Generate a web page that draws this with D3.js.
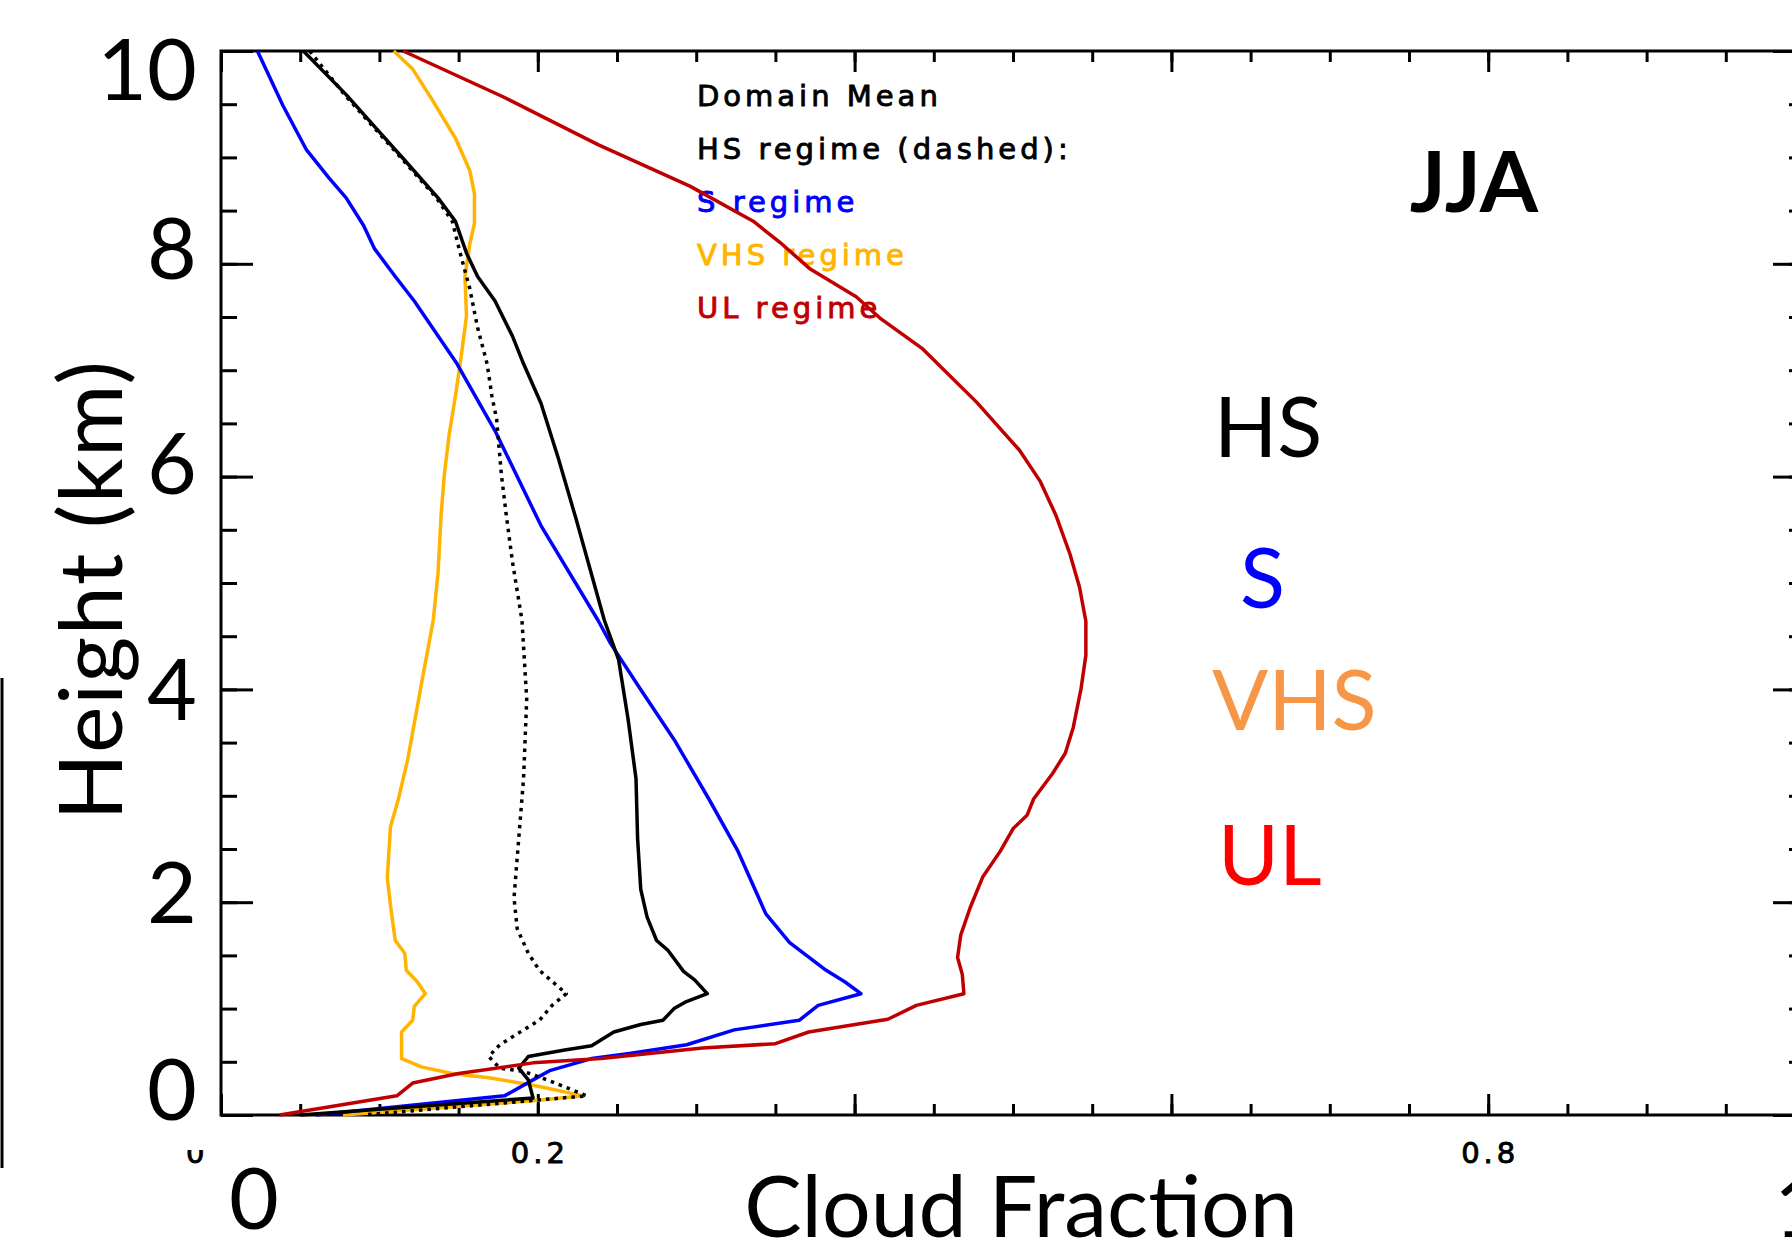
<!DOCTYPE html>
<html>
<head>
<meta charset="utf-8">
<title>Cloud fraction profiles JJA</title>
<style>
  body { margin: 0; background: white; }
  svg { display: block; background: white; }
  .idl { font-family: "DejaVu Sans", sans-serif; font-size: 29px; letter-spacing: 4px; stroke-width: 0.9px; }
  .big { font-family: Lato, "Open Sans", sans-serif; font-size: 86px; }
  .tick line { stroke: black; stroke-width: 3; }
</style>
</head>
<body>
<svg width="1792" height="1242"></svg>
<script src="https://cdn.jsdelivr.net/npm/d3@7"></script>
<script>
// ---- data (cloud fraction vs height in km) ----
const meanHeight = [10, 9.59, 9.29, 8.99, 8.62, 8.40, 8.10, 7.88, 7.65, 7.32, 7.06, 6.69, 6.17, 5.61, 4.65, 4.28, 3.72, 3.16, 2.60, 2.12, 1.86, 1.64, 1.55, 1.35, 1.27, 1.14, 1.06, 1.00, 0.89, 0.85, 0.78, 0.65, 0.61, 0.55, 0.44, 0.33, 0.16, 0];
const meanFrac   = [0.052, 0.079, 0.097, 0.115, 0.137, 0.148, 0.155, 0.162, 0.173, 0.184, 0.191, 0.202, 0.213, 0.224, 0.242, 0.251, 0.257, 0.262, 0.263, 0.265, 0.269, 0.275, 0.282, 0.292, 0.299, 0.307, 0.293, 0.286, 0.279, 0.265, 0.248, 0.234, 0.217, 0.194, 0.188, 0.194, 0.197, 0.05];

const hsHeight = [10, 9.59, 9.29, 8.99, 8.62, 8.40, 8.10, 7.77, 7.40, 7.06, 6.76, 6.54, 6.02, 5.65, 5.20, 4.65, 3.91, 3.16, 2.42, 2.04, 1.75, 1.52, 1.36, 1.14, 1.03, 0.89, 0.80, 0.66, 0.55, 0.44, 0.41, 0.33, 0.18, 0];
const hsFrac   = [0.056, 0.078, 0.096, 0.114, 0.136, 0.146, 0.151, 0.157, 0.162, 0.168, 0.171, 0.174, 0.177, 0.180, 0.184, 0.190, 0.193, 0.191, 0.187, 0.185, 0.187, 0.194, 0.201, 0.218, 0.209, 0.201, 0.191, 0.176, 0.169, 0.176, 0.191, 0.206, 0.231, 0.09];

const sHeight = [10, 9.49, 9.07, 8.81, 8.62, 8.36, 8.14, 7.88, 7.65, 7.06, 6.43, 5.54, 4.65, 4.43, 4.02, 3.53, 2.97, 2.49, 1.89, 1.62, 1.37, 1.25, 1.14, 1.03, 0.89, 0.80, 0.66, 0.58, 0.53, 0.42, 0.33, 0.18, 0];
const sFrac   = [0.023, 0.039, 0.054, 0.068, 0.079, 0.090, 0.097, 0.110, 0.122, 0.149, 0.173, 0.202, 0.238, 0.246, 0.264, 0.286, 0.308, 0.326, 0.344, 0.359, 0.381, 0.394, 0.404, 0.377, 0.365, 0.324, 0.294, 0.259, 0.234, 0.208, 0.197, 0.179, 0.060];

const vhsHeight = [10, 9.83, 9.55, 9.18, 8.88, 8.66, 8.38, 8.18, 7.88, 7.51, 7.06, 6.76, 6.39, 6.02, 5.65, 5.09, 4.65, 4.09, 3.35, 2.97, 2.71, 2.23, 1.97, 1.64, 1.52, 1.36, 1.25, 1.14, 1.02, 0.89, 0.78, 0.67, 0.53, 0.45, 0.39, 0.35, 0.28, 0.18, 0.14, 0];
const vhsFrac   = [0.109, 0.121, 0.133, 0.148, 0.157, 0.160, 0.160, 0.157, 0.154, 0.155, 0.151, 0.148, 0.144, 0.141, 0.139, 0.137, 0.134, 0.127, 0.118, 0.112, 0.107, 0.105, 0.107, 0.110, 0.116, 0.117, 0.124, 0.129, 0.122, 0.121, 0.114, 0.114, 0.114, 0.127, 0.146, 0.169, 0.197, 0.229, 0.202, 0.077];

const ulHeight = [10, 9.57, 9.12, 8.73, 8.40, 8.20, 7.95, 7.69, 7.49, 7.20, 6.70, 6.25, 5.96, 5.64, 5.27, 4.96, 4.64, 4.32, 4.01, 3.64, 3.40, 3.21, 2.97, 2.82, 2.69, 2.48, 2.24, 1.95, 1.69, 1.48, 1.32, 1.14, 1.03, 0.90, 0.78, 0.67, 0.63, 0.53, 0.49, 0.39, 0.30, 0.18, 0];
const ulFrac   = [0.115, 0.178, 0.238, 0.296, 0.336, 0.353, 0.372, 0.401, 0.416, 0.443, 0.477, 0.504, 0.517, 0.527, 0.536, 0.542, 0.546, 0.546, 0.543, 0.538, 0.533, 0.525, 0.513, 0.509, 0.500, 0.492, 0.481, 0.473, 0.467, 0.465, 0.468, 0.469, 0.439, 0.421, 0.371, 0.350, 0.304, 0.240, 0.197, 0.150, 0.121, 0.111, 0.037];

// legend (IDL text) and overlay labels
const legendLabels = ["Domain Mean", "HS regime (dashed):", "S regime", "VHS regime", "UL regime"];
const legendColors = ["#000000", "#000000", "#0000ff", "#ffb400", "#c00000"];
const regimeNames  = ["HS", "S", "VHS", "UL"];
const regimeColors = ["#000000", "#0000ff", "#f79646", "#ff0000"];
const heightTicks  = [0, 2, 4, 6, 8, 10];
const fracLabels   = [0.2, 0.8];

// ---- layout ----
const svg = d3.select('svg');
const x = d3.scaleLinear().domain([0, 1]).range([221, 1805]);
const y = d3.scaleLinear().domain([0, 10]).range([1115, 51]);

// fragment of the box from the neighbouring panel
svg.append('line')
    .attr('x1', 2).attr('x2', 2).attr('y1', 678).attr('y2', 1168)
    .attr('stroke', 'black').attr('stroke-width', 3);

// legend text, drawn under the curves
svg.append('g').selectAll('text')
    .data(legendLabels)
    .join('text')
    .attr('class', 'idl')
    .attr('x', 697)
    .attr('y', (d, i) => 106 + i * 53)
    .attr('fill', (d, i) => legendColors[i])
    .attr('stroke', (d, i) => legendColors[i])
    .text(d => d);

// ticks: minor every 0.05 / 0.5 km, major every 0.2 / 2 km, pointing inwards
function ticks(axis, values, size, transform) {
    svg.append('g')
        .attr('transform', transform)
        .call(axis.tickValues(values).tickSize(-size).tickFormat(''))
        .call(g => g.select('.domain').remove());
}
const xMinor = d3.range(0, 1.0001, 0.05), xMajor = d3.range(0, 1.0001, 0.2);
const yMinor = d3.range(0, 10.01, 0.5), yMajor = d3.range(0, 10.01, 2);
ticks(d3.axisBottom(x), xMinor, 11, `translate(0,${y(0)})`);
ticks(d3.axisBottom(x), xMajor, 21, `translate(0,${y(0)})`);
ticks(d3.axisTop(x), xMinor, 11, `translate(0,${y(10)})`);
ticks(d3.axisTop(x), xMajor, 21, `translate(0,${y(10)})`);
ticks(d3.axisLeft(y), yMinor, 16, `translate(${x(0)},0)`);
ticks(d3.axisLeft(y), yMajor, 32, `translate(${x(0)},0)`);
ticks(d3.axisRight(y), yMinor, 16, `translate(${x(1)},0)`);
ticks(d3.axisRight(y), yMajor, 32, `translate(${x(1)},0)`);

svg.append('rect')
    .attr('x', x(0)).attr('y', y(10))
    .attr('width', x(1) - x(0)).attr('height', y(0) - y(10))
    .attr('fill', 'none').attr('stroke', 'black').attr('stroke-width', 3);

// IDL tick labels that are still visible
svg.append('g').selectAll('text')
    .data(fracLabels)
    .join('text')
    .attr('class', 'idl')
    .attr('x', d => x(d) + 2)
    .attr('y', 1163)
    .attr('text-anchor', 'middle')
    .attr('stroke', 'black')
    .text(d => d.toFixed(1));
// the "0.0" label is mostly hidden behind the pasted "0"
svg.append('clipPath').attr('id', 'zeroClip')
    .append('rect').attr('x', 180).attr('y', 1150).attr('width', 26).attr('height', 20);
svg.append('text')
    .attr('class', 'idl')
    .attr('clip-path', 'url(#zeroClip)')
    .attr('x', x(0) - 6).attr('y', 1163)
    .attr('text-anchor', 'middle')
    .attr('stroke', 'black')
    .text('0.0');

// profiles
const series = [
    { h: vhsHeight,  f: vhsFrac,  color: '#ffb400', dash: null },
    { h: sHeight,    f: sFrac,    color: '#0000ff', dash: null },
    { h: hsHeight,   f: hsFrac,   color: '#000000', dash: '3.5 5' },
    { h: meanHeight, f: meanFrac, color: '#000000', dash: null },
    { h: ulHeight,   f: ulFrac,   color: '#c00000', dash: null }
];
const line = d3.line()
    .x(d => x(d[0]))
    .y(d => y(d[1]));
svg.append('g').selectAll('path')
    .data(series)
    .join('path')
    .attr('d', s => line(d3.zip(s.f, s.h)))
    .attr('fill', 'none')
    .attr('stroke', s => s.color)
    .attr('stroke-width', 3.5)
    .attr('stroke-dasharray', s => s.dash)
    .attr('stroke-linejoin', 'round');

// pasted-on large labels
const heightLabelNudge = [-26, -10, 0, -14, -16, 18];
svg.append('g').selectAll('text')
    .data(heightTicks)
    .join('text')
    .attr('class', 'big')
    .attr('x', 197)
    .attr('y', (d, i) => y(d) + 31 + heightLabelNudge[i])
    .attr('text-anchor', 'end')
    .text(d => d);

svg.append('text')
    .attr('class', 'big')
    .attr('transform', 'translate(122,590) rotate(-90)')
    .attr('text-anchor', 'middle')
    .style('font-size', '88px')
    .style('letter-spacing', '1.5px')
    .text('Height (km)');

svg.append('text')
    .attr('class', 'big')
    .attr('x', 1021).attr('y', 1237)
    .attr('text-anchor', 'middle')
    .text('Cloud Fraction');

svg.append('text')
    .attr('class', 'big')
    .attr('x', 254).attr('y', 1229)
    .attr('text-anchor', 'middle')
    .text('0');

svg.append('text')
    .attr('class', 'big')
    .attr('x', 1774).attr('y', 1237)
    .text('1');

svg.append('text')
    .attr('class', 'big')
    .attr('x', 1474).attr('y', 212)
    .attr('text-anchor', 'middle')
    .style('font-weight', 'bold')
    .style('font-size', '84px')
    .text('JJA');

const regimeX = [1214, 1240, 1212, 1218];
const regimeY = [457, 608, 730, 885];
svg.append('g').selectAll('text')
    .data(regimeNames)
    .join('text')
    .attr('class', 'big')
    .attr('x', (d, i) => regimeX[i])
    .attr('y', (d, i) => regimeY[i])
    .attr('fill', (d, i) => regimeColors[i])
    .style('font-size', '83px')
    .text(d => d);
</script>
</body>
</html>
